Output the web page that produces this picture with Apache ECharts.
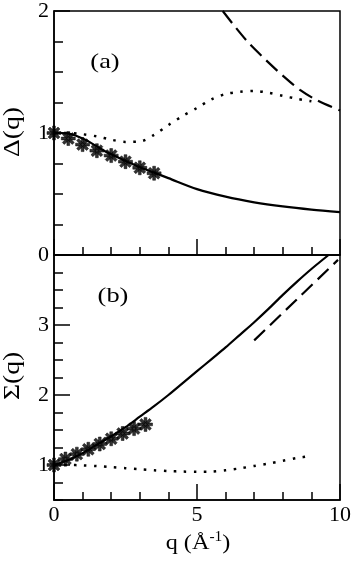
<!DOCTYPE html>
<html>
<head>
<meta charset="utf-8">
<script src="https://cdn.jsdelivr.net/npm/echarts@6/dist/echarts.min.js"></script>
<style>
html, body { margin: 0; padding: 0; background: #fff; }
#chart { width: 354px; height: 564px; }
</style>
</head>
<body>
<div id="chart"></div>
<script>
// panel (a): Delta(q)
const qStarA = [0, 0.5, 1, 1.5, 2, 2.5, 3, 3.5];
const deltaStar = [1.0, 0.955, 0.905, 0.855, 0.815, 0.765, 0.715, 0.67];

const qSolidA = [0, 0.25, 0.5, 0.75, 1, 1.25, 1.5, 1.75, 2, 2.5, 3, 3.5, 4, 5, 6, 7, 8, 9, 10];
const deltaSolid = [1.0, 1.0, 0.995, 0.98, 0.955, 0.925, 0.89, 0.855, 0.825, 0.77, 0.72, 0.675, 0.63, 0.54, 0.478, 0.432, 0.398, 0.372, 0.352];

const qDotA = [0, 0.5, 1, 1.5, 2, 2.5, 3, 3.5, 4, 4.5, 5, 5.5, 6, 6.5, 7, 7.5, 8, 8.5, 9];
const deltaDot = [1.0, 1.0, 0.99, 0.972, 0.945, 0.927, 0.93, 0.985, 1.065, 1.14, 1.205, 1.275, 1.32, 1.337, 1.345, 1.33, 1.305, 1.28, 1.26];

const qDashA = [5.9, 6.3, 6.8, 7.4, 8.0, 8.6, 9.2, 10];
const deltaDash = [2.0, 1.88, 1.74, 1.6, 1.47, 1.353, 1.268, 1.185];

// panel (b): Sigma(q)
const qStarB = [0, 0.4, 0.8, 1.2, 1.6, 2.0, 2.4, 2.8, 3.2];
const sigmaStar = [1.0, 1.085, 1.155, 1.225, 1.3, 1.375, 1.45, 1.52, 1.58];

const qSolidB = [0, 0.5, 1, 1.5, 2, 2.5, 3, 3.5, 4, 4.5, 5, 5.5, 6, 6.5, 7, 7.5, 8, 8.5, 9, 9.6];
const sigmaSolid = [1.0, 1.07, 1.17, 1.29, 1.41, 1.54, 1.69, 1.84, 2.0, 2.17, 2.34, 2.51, 2.68, 2.86, 3.04, 3.23, 3.43, 3.62, 3.8, 4.0];

const qDotB = [0, 0.5, 1, 1.5, 2, 2.5, 3, 3.5, 4, 4.5, 5, 5.5, 6, 6.5, 7, 7.5, 8, 8.5, 9];
const sigmaDot = [1.0, 1.0, 0.995, 0.985, 0.97, 0.955, 0.94, 0.925, 0.913, 0.906, 0.903, 0.905, 0.925, 0.952, 0.986, 1.02, 1.06, 1.1, 1.13];

const qDashB = [7, 8.5, 9.93];
const sigmaDash = [2.78, 3.37, 3.93];

const yTicksA = [0, 1, 2];
const yTicksB = [1, 2, 3];

const FONT = "'Liberation Serif', 'Times New Roman', serif";
const zip = (xs, ys) => xs.map((x, i) => [x, ys[i]]);

// asterisk made of 4 bars
const STAR = 'path://M0 40L100 40L100 60L0 60Z M40 0L60 0L60 100L40 100Z' +
  'M7.5 21.6L21.6 7.5L92.5 78.4L78.4 92.5Z M78.4 7.5L92.5 21.6L21.6 92.5L7.5 78.4Z';

let myChart = echarts.init(document.getElementById('chart'));

function xAx(grid, interval, len, labels) {
    return {
        type: 'value', gridIndex: grid, min: 0, max: 10, interval: interval,
        position: 'bottom',
        axisLine: { show: len < 10, lineStyle: { color: '#000', width: 1.5 } },
        axisTick: { show: true, inside: true, length: len, lineStyle: { color: '#000', width: 1.5 } },
        axisLabel: labels ? { show: true, margin: 4, color: '#000', fontFamily: FONT, fontSize: 22 } : { show: false },
        splitLine: { show: false }
    };
}

function yAx(grid, min, max, interval, len, labels) {
    let ax = {
        type: 'value', gridIndex: grid, min: min, max: max,
        position: 'left',
        axisLine: { show: len < 10, lineStyle: { color: '#000', width: 1.5 } },
        axisTick: { show: true, inside: true, length: len, lineStyle: { color: '#000', width: 1.5 } },
        axisLabel: { show: false },
        splitLine: { show: false }
    };
    if (interval) ax.interval = interval;
    if (labels) {
        ax.axisTick.customValues = labels;
        ax.axisLabel = { show: true, customValues: labels, margin: 5, color: '#000', fontFamily: FONT, fontSize: 22 };
    }
    return ax;
}

function lineS(xi, yi, data, type, width) {
    return {
        type: 'line', xAxisIndex: xi, yAxisIndex: yi, data: data,
        showSymbol: false, symbol: 'none', smooth: 0.3,
        lineStyle: { color: '#000', width: width, type: type }
    };
}

function starS(xi, yi, data) {
    return {
        type: 'scatter', xAxisIndex: xi, yAxisIndex: yi, data: data, clip: false,
        symbol: STAR, symbolSize: 14,
        itemStyle: { color: '#000', borderColor: '#000', borderWidth: 0.6 }
    };
}

let option = {
    animation: false,
    backgroundColor: '#fff',
    grid: [
        { left: 54, top: 9, width: 286, height: 246, show: true, borderColor: '#000', borderWidth: 1.5 },
        { left: 54, top: 255, width: 286, height: 245, show: true, borderColor: '#000', borderWidth: 1.5 }
    ],
    xAxis: [
        xAx(0, 1, 8, false),
        xAx(0, 5, 16, false),
        xAx(1, 1, 8, false),
        xAx(1, 5, 16, true)
    ],
    yAxis: [
        yAx(0, 0, 2, 0.25, 9, null),
        yAx(0, 0, 2, null, 16, yTicksA),
        yAx(1, 0.5, 4, 0.25, 9, null),
        yAx(1, 0.5, 4, null, 16, yTicksB)
    ],
    series: [
        lineS(0, 0, zip(qSolidA, deltaSolid), 'solid', 2.2),
        lineS(0, 0, zip(qDotA, deltaDot), [2.5, 7.5], 2.5),
        lineS(0, 0, zip(qDashA, deltaDash), [15, 7], 2.2),
        starS(0, 0, zip(qStarA, deltaStar)),
        lineS(2, 2, zip(qSolidB, sigmaSolid), 'solid', 2.2),
        lineS(2, 2, zip(qDotB, sigmaDot), [2.5, 7.5], 2.5),
        lineS(2, 2, zip(qDashB, sigmaDash), [15, 7], 2.2),
        starS(2, 2, zip(qStarB, sigmaStar))
    ],
    graphic: [
        { type: 'text', x: 105, y: 62, scaleX: 1.2, style: { text: '(a)', font: '22px ' + FONT, fill: '#000', align: 'center', verticalAlign: 'middle' } },
        { type: 'text', x: 113, y: 296, scaleX: 1.2, style: { text: '(b)', font: '22px ' + FONT, fill: '#000', align: 'center', verticalAlign: 'middle' } },
        { type: 'text', x: 13, y: 132, rotation: Math.PI / 2, scaleX: 1.2, style: { text: 'Δ(q)', font: '23px ' + FONT, fill: '#000', align: 'center', verticalAlign: 'middle' } },
        { type: 'text', x: 13, y: 376, rotation: Math.PI / 2, scaleX: 1.2, style: { text: 'Σ(q)', font: '23px ' + FONT, fill: '#000', align: 'center', verticalAlign: 'middle' } },
        { type: 'text', x: 198, y: 543, scaleX: 1.1, style: {
            text: 'q (Å{s|-1})', font: '22px ' + FONT, fill: '#000', align: 'center', verticalAlign: 'middle',
            rich: { s: { fontSize: 14, fontFamily: FONT, fill: '#000', padding: [0, 0, 12, 0] } }
        } }
    ]
};

myChart.setOption(option, true);
window.addEventListener('resize', function() {
    myChart.resize();
});
</script>
</body>
</html>
